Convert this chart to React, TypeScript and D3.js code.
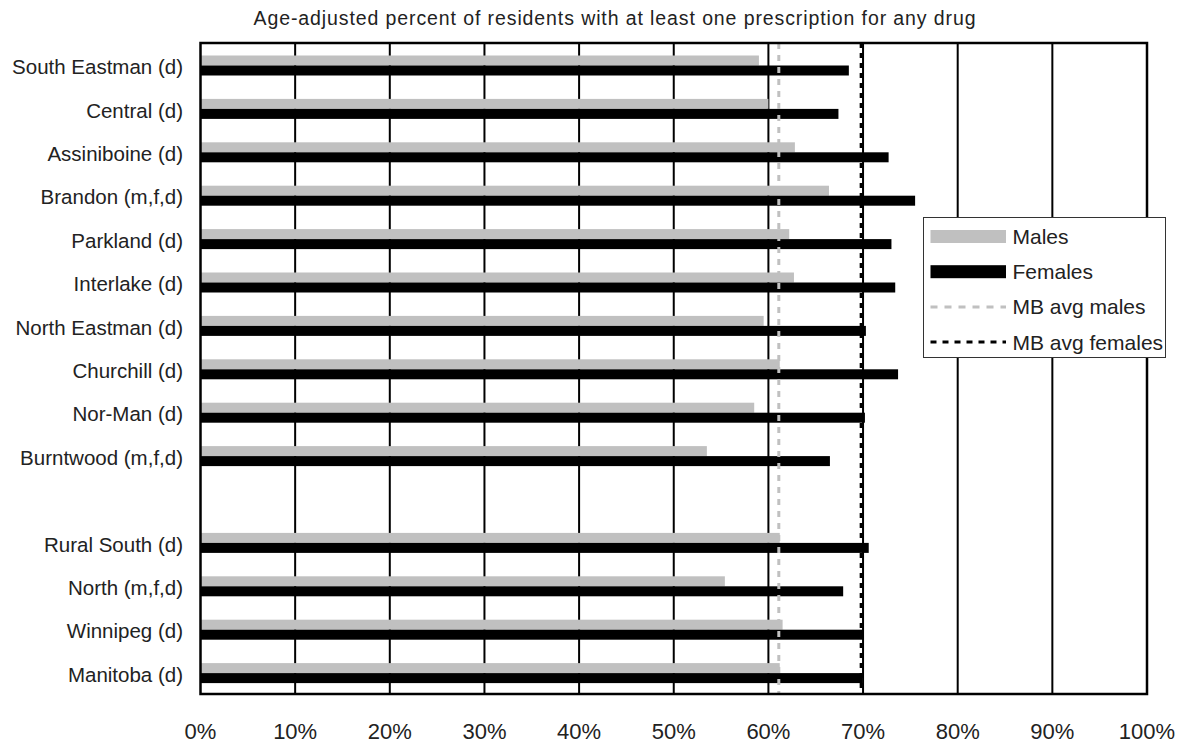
import React from "react";
import * as d3 from "d3";

const categories: string[] = [
  "South Eastman (d)",
  "Central (d)",
  "Assiniboine (d)",
  "Brandon (m,f,d)",
  "Parkland (d)",
  "Interlake (d)",
  "North Eastman (d)",
  "Churchill (d)",
  "Nor-Man (d)",
  "Burntwood (m,f,d)",
  "",
  "Rural South (d)",
  "North (m,f,d)",
  "Winnipeg (d)",
  "Manitoba (d)",
];
const males: (number | null)[] = [59.0, 60.0, 62.8, 66.4, 62.2, 62.7, 59.5, 61.2, 58.5, 53.5, null, 61.2, 55.4, 61.5, 61.2];
const females: (number | null)[] = [68.5, 67.4, 72.7, 75.5, 73.0, 73.4, 70.3, 73.7, 70.2, 66.5, null, 70.6, 67.9, 70.0, 69.9];
const avgMales = 61.1;
const avgFemales = 69.8;
const tickValues = [0, 10, 20, 30, 40, 50, 60, 70, 80, 90, 100];
const title = "Age-adjusted percent of residents with at least one prescription for any drug";
const legendItems = [
  { label: "Males", kind: "bar", color: "#c0c0c0" },
  { label: "Females", kind: "bar", color: "#000000" },
  { label: "MB avg males", kind: "dash", color: "#c0c0c0" },
  { label: "MB avg females", kind: "dash", color: "#000000" },
];

const FONT = "'Liberation Sans', Arial, Helvetica, sans-serif";

export default function App() {
  const W = 1185;
  const H = 745;
  const left = 200.5;
  const right = 1147;
  const top = 43;
  const bottom = 694;

  const x = d3.scaleLinear().domain([0, 100]).range([left, right]);
  const y = d3
    .scaleBand<number>()
    .domain(categories.map((_, i) => i))
    .range([top, bottom])
    .paddingInner(0)
    .paddingOuter(0);
  const bw = y.bandwidth();
  const barH = 10;
  const off = 12.5;

  return (
    <svg width={W} height={H} style={{ position: "absolute", left: 0, top: 0, background: "#fff" }} fontFamily={FONT}>
      <rect x={0} y={0} width={W} height={H} fill="#fff" />
      <text x={615} y={25} textAnchor="middle" fontSize={19.5} letterSpacing={0.9} fill="#222">
        {title}
      </text>

      {/* gridlines */}
      {tickValues
        .filter((t) => t > 0 && t < 100)
        .map((t) => (
          <line key={t} x1={x(t)} x2={x(t)} y1={top} y2={bottom} stroke="#000" strokeWidth={2} />
        ))}

      {/* bars */}
      {categories.map((c, i) => {
        const y0 = (y(i) as number) + off;
        const m = males[i];
        const f = females[i];
        return (
          <g key={i}>
            {m != null && <rect x={x(0)} y={y0} width={x(m) - x(0)} height={barH} fill="#c0c0c0" />}
            {f != null && <rect x={x(0)} y={y0 + barH} width={x(f) - x(0)} height={barH} fill="#000" />}
          </g>
        );
      })}

      {/* average lines */}
      <line x1={x(avgMales)} x2={x(avgMales)} y1={top} y2={bottom} stroke="#c0c0c0" strokeWidth={3} strokeDasharray="6 6" />
      <line x1={x(avgFemales)} x2={x(avgFemales)} y1={top} y2={bottom} stroke="#000" strokeWidth={3} strokeDasharray="5 5" />

      {/* frame */}
      <rect x={left} y={top} width={right - left} height={bottom - top} fill="none" stroke="#000" strokeWidth={2.5} />

      {/* category labels */}
      {categories.map((c, i) => (
        <text
          key={i}
          x={183}
          y={(y(i) as number) + bw / 2 + 2}
          textAnchor="end"
          dominantBaseline="central"
          fontSize={20.5}
          fill="#222"
        >
          {c}
        </text>
      ))}

      {/* x tick labels */}
      {tickValues.map((t) => (
        <text key={t} x={x(t)} y={739} textAnchor="middle" fontSize={22} fill="#222">
          {t}%
        </text>
      ))}

      {/* legend */}
      <g>
        <rect x={923.5} y={217.5} width={242} height={140} fill="#fff" stroke="#333" strokeWidth={1} />
        {legendItems.map((it, i) => {
          const cy = 236.5 + i * 35.2;
          return (
            <g key={it.label}>
              {it.kind === "bar" ? (
                <rect x={930.5} y={cy - 6.5} width={75.5} height={13} fill={it.color} />
              ) : (
                <line
                  x1={930.5}
                  x2={1006}
                  y1={cy}
                  y2={cy}
                  stroke={it.color}
                  strokeWidth={3}
                  strokeDasharray={i === 2 ? "7 7" : "6 6"}
                />
              )}
              <text x={1012.5} y={cy} dominantBaseline="central" fontSize={21} fill="#222">
                {it.label}
              </text>
            </g>
          );
        })}
      </g>
    </svg>
  );
}
